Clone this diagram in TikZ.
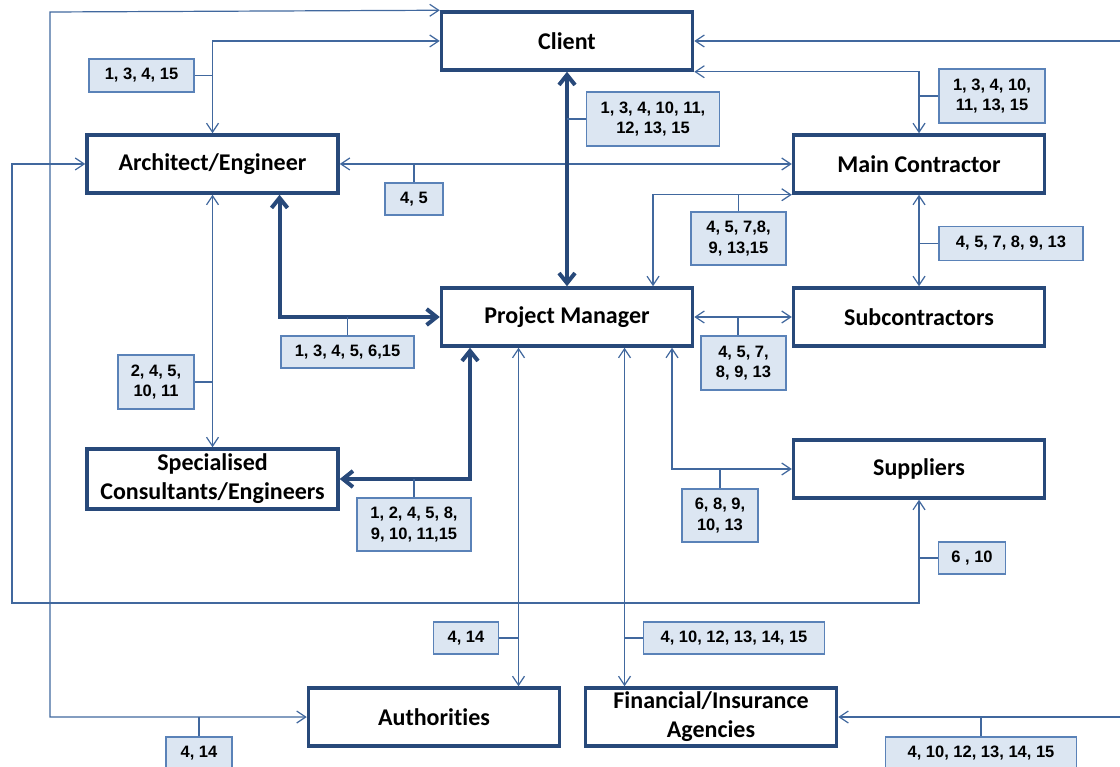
\documentclass[tikz,border=0pt]{standalone}
\usepackage{fontspec}
\setmainfont{Carlito}[Ligatures=NoCommon]
\newfontfamily\numfont{Liberation Sans}
\usetikzlibrary{arrows.meta}

\definecolor{boxblue}{HTML}{28497A}
\definecolor{linkblue}{HTML}{41689E}
\definecolor{tagfill}{HTML}{DCE6F2}
\definecolor{tagline}{HTML}{5A82B8}

\begin{document}
\begin{tikzpicture}[x=1pt,y=-1pt,
  party/.style={draw=boxblue,line width=3.5pt,fill=white,minimum width=251pt,minimum height=58pt,inner sep=2pt,align=center,font=\bfseries\fontsize{24}{29}\selectfont},
  tag/.style={draw=tagline,line width=1.2pt,fill=tagfill,inner sep=0pt,align=center,font=\numfont\bfseries\fontsize{16.5}{20.5}\selectfont},
  link/.style={draw=linkblue,line width=1.2pt,{Straight Barb[length=9pt,width=12pt]}-{Straight Barb[length=9pt,width=12pt]}},
  mainlink/.style={draw=boxblue,line width=4pt,{Straight Barb[length=10pt,width=16pt]}-{Straight Barb[length=10pt,width=16pt]}},
  stem/.style={draw=linkblue,line width=1.2pt}]
  \useasboundingbox (0,0) rectangle (1120,767);
  % parties
  \node[party] (client) at (567,41) {Client};
  \node[party] (arch) at (212.5,164) {Architect/Engineer};
  \node[party] (mc) at (919,164) {Main Contractor};
  \node[party] (pm) at (567,317) {Project Manager};
  \node[party] (sub) at (919,317) {Subcontractors};
  \node[party,minimum height=60pt] (spec) at (212.5,479) {Specialised\\Consultants/Engineers};
  \node[party] (sup) at (919,469) {Suppliers};
  \node[party] (auth) at (434,717) {Authorities};
  \node[party] (fin) at (711,717) {Financial/Insurance\\Agencies};
  % corners of the long links
  \coordinate (c1) at (50,12);
  \coordinate (c2) at (12,603);
  \coordinate (c3) at (1135,0);
  \coordinate (pa) at ([xshift=-48.5pt]pm.south);
  \coordinate (pf) at ([xshift=57.5pt]pm.south);
  % thin links
  \draw[link] (client.north west) -- (c1) |- (auth.west);
  \draw[link] (client.west) -| (arch.north);
  \draw[link] (arch.west) -| (c2) -| (sup.south);
  \draw[link] (client.east) -- (client.east -| c3) |- (fin.east);
  \draw[link] (client.south east) -| (mc.north);
  \draw[link] (arch.east) -- (mc.west);
  \draw[link] (mc.south west) -| ([xshift=86pt]pm.north);
  \draw[link] (mc.south) -- (sub.north);
  \draw[link] (pm.east) -- (sub.west);
  \draw[link] ([xshift=105pt]pm.south) |- (sup.west);
  \draw[link] (arch.south) -- (spec.north);
  \draw[link] (pa) -- (pa |- auth.north);
  \draw[link] (pf) -- (pf |- fin.north);
  % thick links
  \draw[mainlink] (client.south) -- (pm.north);
  \draw[mainlink] ([xshift=67pt]arch.south) |- (pm.west);
  \draw[mainlink] ([xshift=-97pt]pm.south) |- (spec.east);
  % tags
  \node[tag,minimum width=105pt,minimum height=33pt] (t1) at (141.5,75.5) {1, 3, 4, 15};
  \node[tag,minimum width=133pt,minimum height=54pt] (t2) at (653,119) {1, 3, 4, 10, 11,\\12, 13, 15};
  \node[tag,minimum width=106pt,minimum height=54pt] (t3) at (992,96) {1, 3, 4, 10,\\11, 13, 15};
  \node[tag,minimum width=58pt,minimum height=32pt] (t4) at (414,199) {4, 5};
  \node[tag,minimum width=95pt,minimum height=53pt] (t5) at (738.5,238.5) {4, 5, 7,8,\\9, 13,15};
  \node[tag,minimum width=144pt,minimum height=34pt] (t6) at (1011,243.5) {4, 5, 7, 8, 9, 13};
  \node[tag,minimum width=133pt,minimum height=32pt] (t7) at (347.5,352) {1, 3, 4, 5, 6,15};
  \node[tag,minimum width=85pt,minimum height=54pt] (t8) at (743.5,363) {4, 5, 7,\\8, 9, 13};
  \node[tag,minimum width=76pt,minimum height=54pt] (t9) at (156,382) {2, 4, 5,\\10, 11};
  \node[tag,minimum width=76pt,minimum height=53pt] (t10) at (720,515.5) {6, 8, 9,\\10, 13};
  \node[tag,minimum width=114pt,minimum height=53pt] (t11) at (414,524.5) {1, 2, 4, 5, 8,\\9, 10, 11,15};
  \node[tag,minimum width=67pt,minimum height=32pt] (t12) at (972,558) {6 , 10};
  \node[tag,minimum width=65pt,minimum height=32pt] (t13) at (466,638) {4, 14};
  \node[tag,minimum width=181pt,minimum height=32pt] (t14) at (734,638) {4, 10, 12, 13, 14, 15};
  \node[tag,minimum width=66pt,minimum height=32pt] (t15) at (199,753) {4, 14};
  \node[tag,minimum width=191pt,minimum height=32pt] (t16) at (981,753) {4, 10, 12, 13, 14, 15};
  % stems from tags to links
  \draw[stem] (t1.east) -- (t1.east -| arch.north);
  \draw[stem] (t2.west) -- (t2.west -| client.south);
  \draw[stem] (t3.west) -- (t3.west -| mc.north);
  \draw[stem] (t4.north) -- (t4.north |- arch.east);
  \draw[stem] (t5.north) -- (t5.north |- mc.south west);
  \draw[stem] (t6.west) -- (t6.west -| mc.south);
  \draw[stem] (t7.north) -- (t7.north |- pm.west);
  \draw[stem] ([xshift=-5.5pt]t8.north) -- ([xshift=-5.5pt]t8.north |- pm.east);
  \draw[stem] (t9.east) -- (t9.east -| arch.south);
  \draw[stem] (t10.north) -- (t10.north |- sup.west);
  \draw[stem] (t11.north) -- (t11.north |- spec.east);
  \draw[stem] (t12.west) -- (t12.west -| sup.south);
  \draw[stem] (t13.east) -- (t13.east -| pa);
  \draw[stem] (t14.west) -- (t14.west -| pf);
  \draw[stem] (t15.north) -- (t15.north |- auth.west);
  \draw[stem] (t16.north) -- (t16.north |- fin.east);
\end{tikzpicture}
\end{document}
